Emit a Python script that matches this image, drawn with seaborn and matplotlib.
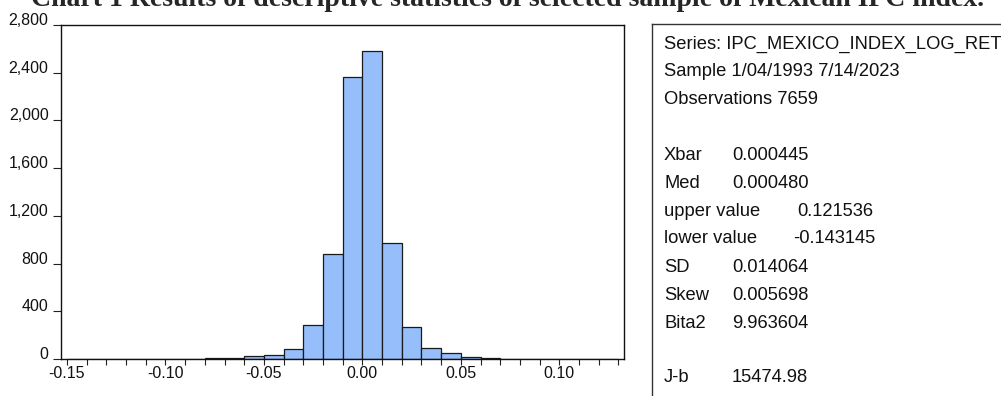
import matplotlib
matplotlib.use("Agg")
import matplotlib.pyplot as plt
import matplotlib.ticker as mticker
import numpy as np
import pandas as pd
import seaborn as sns

# histogram of daily log returns (28 bins of width 0.01 from -0.15 to 0.13)
bin_lo, bin_hi, n_bins = -0.15, 0.13, 28
bin_counts = [1, 0, 0, 0, 2, 1, 2, 5, 8, 28, 36, 84, 285, 880, 2363,
              2581, 972, 271, 92, 47, 20, 8, 3, 2, 1, 0, 0, 1]
bin_mids = np.linspace(bin_lo + 0.005, bin_hi - 0.005, n_bins)

title = "Chart 1 Results of descriptive statistics of selected sample of Mexican IPC index."
header_lines = ["Series: IPC_MEXICO_INDEX_LOG_RET",
                "Sample 1/04/1993 7/14/2023",
                "Observations 7659"]
stat_names = ["Xbar", "Med", "upper value", "lower value", "SD", "Skew", "Bita2", "J-b"]
stat_values = ["0.000445", "0.000480", "0.121536", "-0.143145",
               "0.014064", "0.005698", "9.963604", "15474.98"]

df = pd.DataFrame({"ret": bin_mids, "n": bin_counts})

sns.set_theme(style="white")
plt.rcParams["font.family"] = ["Liberation Sans", "DejaVu Sans"]

fig = plt.figure(figsize=(10.01, 3.96), dpi=100)
W, H = 1001, 396

# histogram panel
ax = fig.add_axes([61 / W, 1 - 359 / H, (624 - 61) / W, (359 - 25) / H])
sns.histplot(data=df, x="ret", weights="n", bins=n_bins, binrange=(bin_lo, bin_hi),
             ax=ax, color="#96BEFA", edgecolor="#1a1a1a", linewidth=0.9, alpha=1)
ax.set_xlim(-0.153, 0.1328)
ax.set_ylim(0, 2800)
ax.set_ylabel("")
ax.set_xlabel("")
ax.xaxis.set_major_locator(mticker.MultipleLocator(0.05))
ax.xaxis.set_minor_locator(mticker.MultipleLocator(0.01))
ax.xaxis.set_major_formatter(mticker.FormatStrFormatter("%.2f"))
ax.yaxis.set_major_locator(mticker.MultipleLocator(400))
ax.yaxis.set_major_formatter(mticker.FuncFormatter(lambda v, p: f"{int(v):,}"))
ax.tick_params(axis="x", which="both", direction="out", length=4, width=0.8,
               color="#222222", pad=1, labelsize=11.5, labelcolor="#111111", bottom=True)
ax.tick_params(axis="y", direction="out", length=6, width=0.8, color="#222222",
               pad=3, labelsize=11.5, labelcolor="#111111", left=True)
for lab in ax.get_yticklabels():
    lab.set_va("baseline")
for s in ax.spines.values():
    s.set_color("#111111")
    s.set_linewidth(1.0)

# statistics panel
bx = fig.add_axes([652 / W, -0.2, 0.5, 1.2 - 24 / H])
bx.set_xticks([])
bx.set_yticks([])
for s in bx.spines.values():
    s.set_color("#333333")
    s.set_linewidth(1.0)

fs = 13.2
tx = 664 / W
for i, line in enumerate(header_lines):
    fig.text(tx, 1 - (44 + 27.5 * i) / H, line, fontsize=fs, va="center", color="#111111")
stat_y = [155, 183, 211, 239, 267, 295, 323, 377]
val_x = [732, 732, 797, 793, 732, 732, 732, 732]
for name, val, y, vx in zip(stat_names, stat_values, stat_y, val_x):
    fig.text(tx, 1 - y / H, name, fontsize=fs, va="center", color="#111111")
    fig.text(vx / W, 1 - y / H, val, fontsize=fs, va="center", color="#111111")

fig.text(508 / W, 1 - 6 / H, title, ha="center", va="baseline",
         fontsize=20, fontweight="bold", family="Liberation Serif")

fig.savefig("out.png", dpi=100)
